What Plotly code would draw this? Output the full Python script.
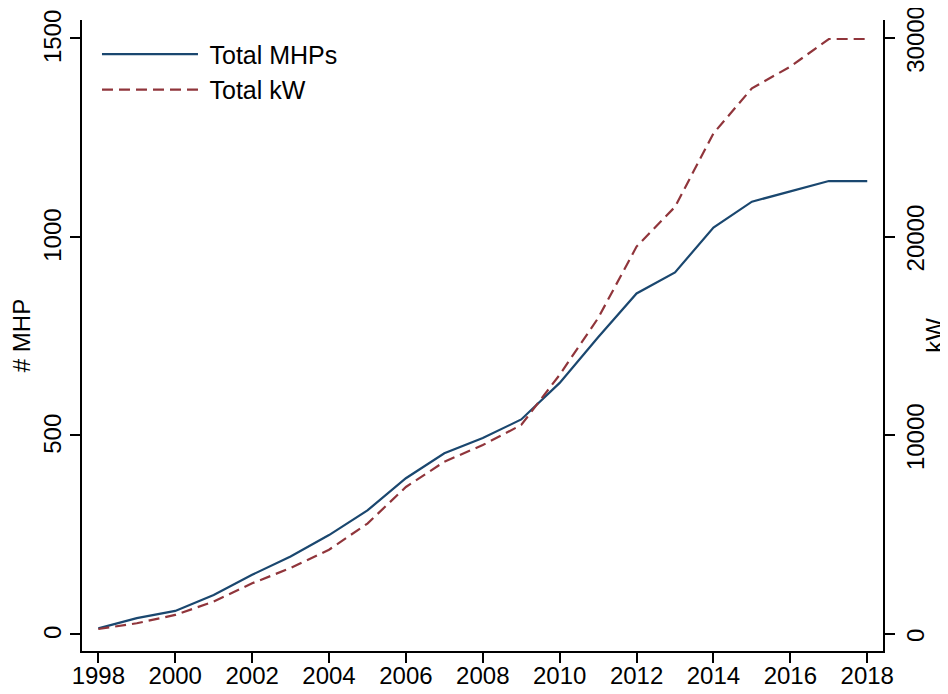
import plotly.graph_objects as go

years = list(range(1998, 2019))
total_mhps = [14, 40, 58, 98, 149, 195, 249, 311, 392, 455, 493, 540, 632, 747,
              857, 910, 1023, 1088, 1114, 1140, 1140]
total_kw = [250, 540, 960, 1630, 2550, 3320, 4240, 5560, 7400, 8670, 9510, 10520,
            13050, 15900, 19500, 21500, 25200, 27470, 28560, 29950, 29950]

left_ticks = [0, 500, 1000, 1500]
right_ticks = [0, 10000, 20000, 30000]
x_ticks = list(range(1998, 2019, 2))

navy = "#1a476f"
maroon = "#90353b"
font_family = "Liberation Sans, Arial, sans-serif"
fs = 24

fig = go.Figure()
fig.add_trace(go.Scatter(x=years, y=total_mhps, name=" Total MHPs", mode="lines",
                         line=dict(color=navy, width=2.2), yaxis="y"))
fig.add_trace(go.Scatter(x=years, y=total_kw, name=" Total kW", mode="lines",
                         line=dict(color=maroon, width=2.2, dash="11px,6px"), yaxis="y2"))

lo, hi = -42.8, 1545.3
axis_common = dict(showgrid=False, zeroline=False, showline=True, linecolor="black",
                   linewidth=1.5, ticks="outside", ticklen=10, tickwidth=1.5,
                   tickcolor="black", automargin=False, ticklabeloverflow="allow",
                   tickfont=dict(size=fs, color="black", family=font_family))

# page body has an 8px default margin; figure is sized/offset to compensate
fig.update_layout(
    width=940, height=686,
    margin=dict(l=74, r=65, t=12, b=43),
    paper_bgcolor="white", plot_bgcolor="white",
    font=dict(family=font_family, color="black", size=fs),
    showlegend=True,
    legend=dict(x=0.0187, y=0.982, xanchor="left", yanchor="top",
                font=dict(size=25, family=font_family, color="black"),
                itemwidth=96, tracegroupgap=0, bgcolor="rgba(0,0,0,0)"),
    xaxis=dict(range=[1997.575, 2018.41], tickvals=x_ticks, ticklabelstandoff=-8,
               **axis_common),
    yaxis=dict(range=[lo, hi], tickvals=left_ticks, tickangle=-90, ticklabelshift=2,
               title=dict(text="# MHP", font=dict(size=fs, family=font_family), standoff=8),
               **axis_common),
    yaxis2=dict(range=[lo * 20, hi * 20], tickvals=right_ticks, tickangle=-90,
                tickformat="d", overlaying="y", side="right", ticklabelshift=5,
                title=dict(text="kW", font=dict(size=fs, family=font_family), standoff=15),
                **axis_common),
)

fig.write_html("out.html")
